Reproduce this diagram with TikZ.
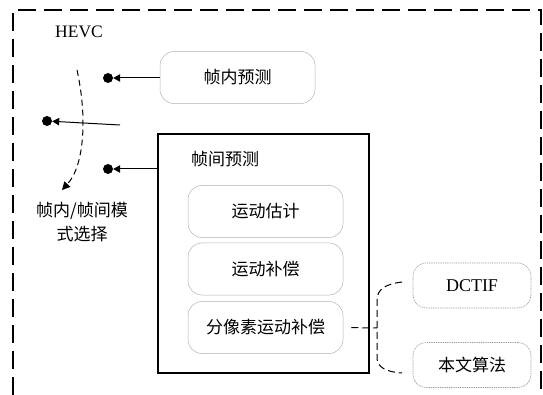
\documentclass[tikz,border=0pt]{standalone}
\usepackage{fontspec}
\setmainfont{Liberation Serif}
\newfontfamily\cjk{Noto Sans CJK SC}
\usetikzlibrary{arrows.meta}
\begin{document}
\begin{tikzpicture}[x=1pt,y=-1pt,
  rbox/.style={draw=gray!60, line width=0.5pt, rounded corners=14pt, minimum width=155pt, minimum height=52pt, inner sep=0pt, font=\cjk\fontsize{17}{18}\selectfont},
  dbox/.style={draw=gray!80, line width=0.6pt, dash pattern=on 1pt off 0.8pt, rounded corners=13pt, minimum width=118pt, minimum height=45pt, inner sep=0pt},
  blackdot/.style={circle, fill=black, minimum size=10pt, inner sep=0pt},
  arr/.style={-{Triangle[length=7pt,width=7.5pt]}, line width=1pt},
  dsh/.style={line width=1pt, dash pattern=on 7pt off 4pt},
  cjkfont/.style={font=\cjk\fontsize{17}{24}\selectfont}]
\useasboundingbox (0,0) rectangle (543,395);
% outer frame
\draw[line width=1.4pt, dash pattern=on 18pt off 8pt] (13,395) -- (13,10) -- (541,10) -- (541,395);
\node[font=\fontsize{17.5}{20}\selectfont] (hevc) at (79,32) {HEVC};
% boxes
\node[rbox] (intra) at (237.5,77.5) {帧内预测};
\node[draw, line width=1.1pt, minimum width=211pt, minimum height=239pt, inner sep=0pt] (inter) at (263.5,253.5) {};
\node[cjkfont] (interlbl) at (225,159) {帧间预测};
\node[rbox] (me) at (265.5,211.5) {运动估计};
\node[rbox] (mc) at (265.5,269) {运动补偿};
\node[rbox] (smc) at (265.5,327.5) {分像素运动补偿};
\node[dbox, font=\fontsize{18}{20}\selectfont] (dctif) at (472,285.5) {DCTIF};
\node[dbox, font=\cjk\fontsize{17}{18}\selectfont] (ours) at (472,365) {本文算法};
% dots and arrows
\node[blackdot] (d1) at (108,78) {};
\node[blackdot] (d2) at (47,121) {};
\node[blackdot] (d3) at (108,169) {};
\draw[arr] (intra.west |- d1) -- (d1);
\coordinate (s2) at (120,125);
\draw[arr] (s2) -- (d2);
\draw[arr] (inter.west |- d3) -- (d3);
% mode selection
\coordinate (c0) at (77,70);
\coordinate (c1) at (62,190);
\draw[line width=1pt, dash pattern=on 6pt off 4pt, -{Triangle[length=8pt,width=8pt]}] (c0) .. controls (87,115) and (85,165) .. (c1);
\node[cjkfont, align=center] (mode) at (82,222) {帧内/帧间模\\式选择};
% brace connector
\coordinate (bt) at (402,282);
\coordinate (bb) at (402,373);
\coordinate (bm) at (377,328);
\draw[dsh] (bt) .. controls (386,284) and (377,289) .. (377,300) -- (377,358) .. controls (377,367) and (386,372) .. (bb);
\draw[dsh, shorten <=8pt] (smc.east) -- (bm);
\end{tikzpicture}
\end{document}
